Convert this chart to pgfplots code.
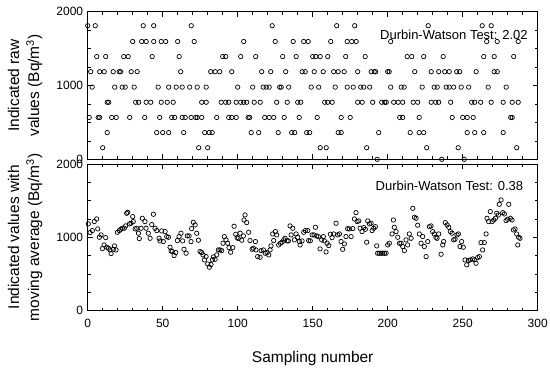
\documentclass[border=0pt]{standalone}
\usepackage{fontspec}
\setmainfont{Liberation Sans}
\usepackage{pgfplots}
\pgfplotsset{compat=1.18}
\begin{document}
\begin{tikzpicture}
\useasboundingbox (0pt,0pt) rectangle (550pt,368pt);
\pgfplotsset{
 myp/.style={black, only marks, mark=o, mark size=2.2pt, mark options={line width=0.7pt, solid}},
 myax/.style={scale only axis, width=450pt, xmin=0, xmax=300, ymin=0, ymax=2000,
  xtick={0,50,...,300}, minor x tick num=4, ytick={0,1000,2000}, minor y tick num=3,
  tick align=inside, major tick length=5pt, minor tick length=3pt,
  axis line style={line width=1pt}, tick style={line width=0.7pt, black},
  /pgf/number format/assume math mode=true, /pgf/number format/1000 sep={},
  ticklabel style={font=\fontsize{12}{14}\selectfont},
  yticklabel style={xshift=-1pt},
  xticklabel style={yshift=-5pt},
  label style={font=\fontsize{15.5}{20}\selectfont, align=center},
  ylabel style={at={(axis description cs:0,0.5)}, anchor=center, rotate=0, yshift=62.7pt},
  xlabel style={at={(axis description cs:0.5,0)}, anchor=center, yshift=-48pt}}
}
\begin{axis}[myax, height=147.6pt, at={(87.7pt,208.7pt)}, anchor=south west, xticklabels={},
  ylabel={Indicated raw\\values (Bq/m\textsuperscript{3})}]
\addplot[myp] coordinates {(0,1810)(5,1810)(37,1810)(44,1810)(69,1810)(123,1810)(166,1810)(178,1810)(227,1810)(263,1810)(269,1810)};
\addplot[myp] coordinates {(30,1596)(36,1596)(39,1596)(44,1596)(49,1596)(52,1596)(60,1596)(71,1596)(104,1596)(125,1596)(137,1596)(144,1596)(147,1596)(162,1596)(173,1596)(176,1596)(179,1596)(202,1596)(266,1596)(273,1596)(287,1596)};
\addplot[myp] coordinates {(6,1392)(12,1392)(24,1392)(27,1392)(43,1392)(61,1392)(90,1392)(92,1392)(102,1392)(112,1392)(130,1392)(139,1392)(150,1392)(152,1392)(155,1392)(160,1392)(172,1392)(185,1392)(213,1392)(216,1392)(224,1392)(237,1392)(264,1392)(271,1392)(284,1392)};
\addplot[myp] coordinates {(2,1187)(8,1187)(11,1187)(17,1187)(21,1187)(22,1187)(29,1187)(33,1187)(62,1187)(82,1187)(85,1187)(88,1187)(96,1187)(116,1187)(122,1187)(132,1187)(143,1187)(145,1187)(151,1187)(157,1187)(164,1187)(167,1187)(171,1187)(180,1187)(189,1187)(191,1187)(192,1187)(200,1187)(201,1187)(218,1187)(229,1187)(234,1187)(238,1187)(241,1187)(246,1187)(248,1187)(259,1187)(271,1187)(273,1187)};
\addplot[myp] coordinates {(3,978)(18,978)(23,978)(25,978)(31,978)(47,978)(54,978)(59,978)(63,978)(68,978)(73,978)(79,978)(100,978)(110,978)(117,978)(119,978)(121,978)(128,978)(129,978)(134,978)(149,978)(154,978)(165,978)(173,978)(177,978)(182,978)(184,978)(188,978)(202,978)(209,978)(211,978)(223,978)(231,978)(233,978)(239,978)(241,978)(244,978)(249,978)(254,978)(267,978)(279,978)};
\addplot[myp] coordinates {(13,773)(14,773)(32,773)(34,773)(39,773)(42,773)(49,773)(53,773)(57,773)(76,773)(79,773)(89,773)(92,773)(94,773)(99,773)(102,773)(104,773)(106,773)(111,773)(115,773)(126,773)(133,773)(140,773)(142,773)(158,773)(160,773)(163,773)(180,773)(183,773)(190,773)(196,773)(198,773)(199,773)(204,773)(207,773)(210,773)(217,773)(220,773)(229,773)(232,773)(234,773)(242,773)(256,773)(258,773)(262,773)(269,773)(277,773)(283,773)(287,773)};
\addplot[myp] coordinates {(1,567)(7,567)(8,567)(16,567)(19,567)(28,567)(38,567)(48,567)(56,567)(58,567)(63,567)(65,567)(69,567)(72,567)(73,567)(76,567)(86,567)(94,567)(96,567)(99,567)(107,567)(108,567)(118,567)(121,567)(124,567)(131,567)(141,567)(153,567)(169,567)(175,567)(208,567)(210,567)(221,567)(243,567)(250,567)(253,567)(257,567)(282,567)(283,567)};
\addplot[myp] coordinates {(13,362)(46,362)(50,362)(54,362)(64,362)(78,362)(81,362)(83,362)(109,362)(114,362)(127,362)(136,362)(138,362)(146,362)(148,362)(167,362)(169,362)(194,362)(215,362)(221,362)(224,362)(253,362)(258,362)(264,362)(277,362)};
\addplot[myp] coordinates {(10,157)(74,157)(80,157)(155,157)(159,157)(186,157)(226,157)(247,157)(286,157)};
\addplot[myp] coordinates {(193,0)(236,0)(251,0)};
\node[anchor=east, inner sep=0pt, font=\fontsize{13}{15}\selectfont] at (axis description cs:0.978,0.842) {Durbin-Watson Test: 2.02};
\end{axis}
\begin{axis}[myax, height=146.5pt, at={(87.7pt,57.5pt)}, anchor=south west,
  xlabel={Sampling number},
  ylabel={Indicated values with\\moving average (Bq/m\textsuperscript{3})}]
\addplot[myp] coordinates {(0.4,1182)(1.6,1064)(3.1,1091)(4.4,1214)(6,1250)(6.7,1114)(7.8,1000)(8.9,1032)(9.8,845)(10.9,895)(12,995)(12.7,864)(13.8,850)(14.9,827)(15.6,777)(17.1,836)(17.8,882)(18.9,827)(19.8,1068)(21.1,1091)(22.2,1109)(23.1,1123)(24.4,1123)(25.3,1155)(26,1327)(26.7,1341)(27.8,1182)(28.9,1191)(30,1282)(30.4,1214)(31.6,1114)(32.7,1123)(33.8,1055)(34.4,982)(35.6,1123)(36.4,1259)(38.2,1214)(38.9,1123)(40.4,1055)(41.6,986)(42.7,1173)(43.8,1314)(44.9,1123)(46,1091)(47.6,986)(48.2,950)(49.3,1086)(50.4,941)(51.6,1077)(52.7,1009)(53.8,1000)(54.9,864)(55.6,814)(56.4,805)(57.6,750)(58.7,791)(59.8,955)(60.9,1009)(62.2,1055)(63.3,950)(64.2,836)(65.6,782)(66.4,1018)(67.6,1018)(68.9,941)(69.3,1118)(70.4,1204)(71.6,1168)(72.7,1055)(73.8,959)(74.9,805)(76,791)(76.9,759)(77.8,691)(78.9,736)(80,636)(81.1,591)(82.2,627)(83.1,691)(83.8,732)(84.9,700)(86,759)(87.1,827)(88.2,827)(89.3,818)(90.2,918)(91.1,1009)(92.2,964)(93.3,918)(94.2,859)(95.3,795)(96.7,859)(97.6,1150)(98.7,1041)(99.6,995)(100.4,982)(101.6,1055)(102.7,959)(103.8,1018)(104.2,1236)(104.9,1304)
(106,1200)(107.3,1068)(108.2,955)(109.6,836)(110.4,850)(111.8,941)(112.2,827)(113.3,736)(114.9,727)(115.6,818)(117.1,827)(118.4,782)(119.6,791)(120.7,759)(121.6,827)(122.2,882)(123.3,1045)(124,955)(125.1,1077)(126,1032)(127.3,895)(128.4,918)(129.6,932)(130.7,964)(131.6,986)(132.9,950)(133.8,950)(134.9,1155)(135.6,1032)(136.7,1123)(137.8,964)(138.9,1045)(140,1000)(141.1,941)(141.6,895)(142.9,950)(144,1068)(145.1,1091)(146.7,1091)(147.3,955)(148.4,950)(149.6,1032)(150.9,1032)(151.8,1136)(152.7,1018)(153.8,1009)(154.9,841)(156,964)(157.1,1009)(157.8,950)(158.9,800)(159.6,918)(160.7,886)(161.8,1041)(162.9,995)(164,1045)(165.6,1191)(166.7,1032)(167.8,1045)(168.9,941)(170,836)(171.1,909)(172.2,1009)(173.3,1118)(174.4,1114)(175.6,1009)(176.7,1118)(177.8,1250)(178.9,1336)(179.6,1214)(180.7,1223)(181.6,1123)(182.9,1077)(184,1132)(185.1,1109)(186,932)(186.7,1223)(187.8,1182)(188.9,1191)(189.6,1091)(190.7,1123)(191.8,1145)(192.7,882)(193.3,782)(194.4,782)(195.6,782)(196.7,782)(197.8,782)(198.9,782)(200,895)
(201.1,918)(202.9,1045)(203.8,1236)(204.4,1136)(205.6,1077)(206.7,1000)(207.8,918)(208.9,918)(210,873)(211.1,818)(212.2,964)(213.3,895)(214.4,1045)(215.6,986)(216.7,1395)(217.8,1273)(218.9,1259)(220,1164)(221.1,1045)(222.2,918)(223.3,1009)(224.4,873)(225.6,736)(226.7,941)(227.8,1145)(228.9,1155)(230,1077)(231.1,1045)(232.2,1000)(232.9,986)(234,1045)(235.6,768)(236.7,895)(237.3,941)(238.4,1200)(239.6,1168)(240.7,1136)(241.8,1077)(242.9,1055)(244,964)(244.9,973)(246.2,1032)(247.1,1045)(248.2,873)(249.3,941)(250.4,864)(251.6,691)(252.7,623)(253.8,682)(255.1,691)(256.7,705)(257.8,691)(258.9,645)(260,723)(261.1,736)(262.2,927)(263.3,827)(264.4,927)(265.6,1045)(266.2,1259)(267.3,1214)(268.4,1350)(269.6,1214)(270.7,1236)(271.8,1259)(272.7,1327)(273.8,1304)(274.4,1450)(275.6,1509)(276.7,1336)(277.8,1318)(278.9,1227)(280,1245)(280.7,1450)(281.8,1259)(282.9,1236)(283.8,1100)(284.9,1114)(286,1045)(286.7,895)(287.3,1000)(288.2,986)};
\node[anchor=east, inner sep=0pt, font=\fontsize{13}{15}\selectfont] at (axis description cs:0.968,0.852) {Durbin-Watson Test: 0.38};
\end{axis}
\end{tikzpicture}
\end{document}
